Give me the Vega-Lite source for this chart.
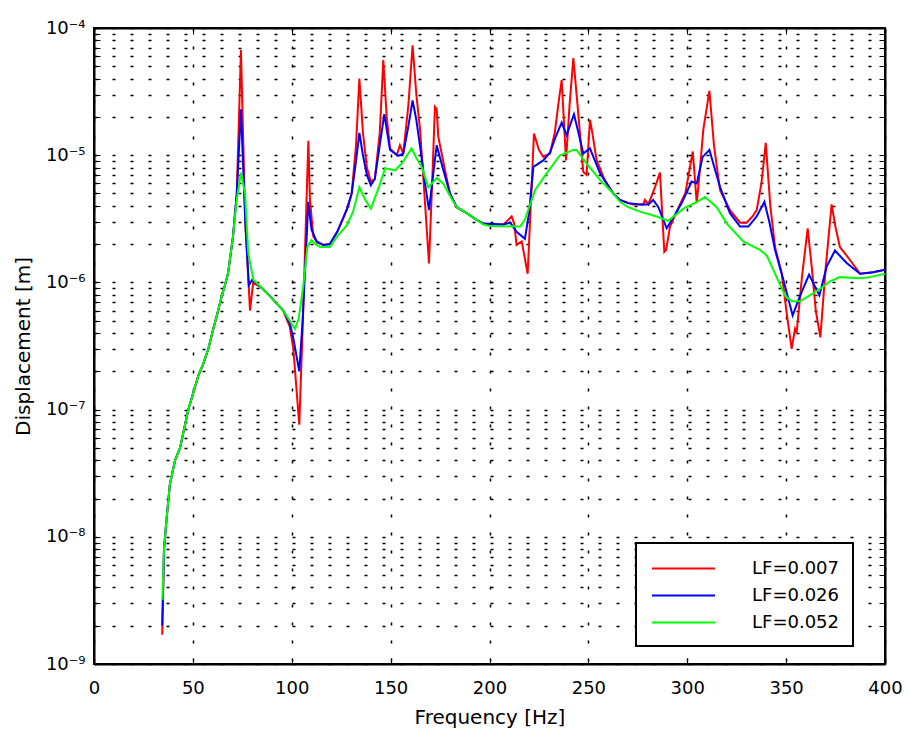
{
  "$schema": "https://vega.github.io/schema/vega-lite/v6.json",
  "width": 791,
  "height": 636,
  "autosize": {"type": "none"},
  "padding": {"left": 94, "top": 28, "right": 24, "bottom": 72},
  "background": "white",
  "config": {
    "view": {"stroke": "black", "strokeWidth": 2},
    "font": "DejaVu Sans",
    "axis": {
      "domainColor": "black",
      "domainWidth": 2,
      "tickColor": "black",
      "tickWidth": 1,
      "tickSize": -6,
      "labelColor": "black",
      "titleColor": "black",
      "labelFont": "DejaVu Sans",
      "titleFont": "DejaVu Sans",
      "titleFontWeight": "normal",
      "labelFlush": false,
      "gridColor": "black",
      "gridDash": [3, 15],
      "gridWidth": 1.5,
      "gridOpacity": 1
    },
    "legend": {
      "orient": "none",
      "legendX": 542,
      "legendY": 515,
      "strokeColor": "black",
      "strokeWidth": 2,
      "fillColor": "white",
      "padding": 14,
      "symbolType": "M-3,0H3",
      "symbolSize": 441,
      "symbolStrokeWidth": 2,
      "symbolOffset": 22,
      "labelFont": "DejaVu Sans",
      "labelFontSize": 18,
      "labelColor": "black",
      "labelOffset": 57,
      "rowPadding": 6
    }
  },
  "data": {
    "values": [
      {"f": 34.5, "d": 1.7e-9, "s": "LF=0.007"},
      {"f": 35.4, "d": 8e-9, "s": "LF=0.007"},
      {"f": 36.8, "d": 1.44e-8, "s": "LF=0.007"},
      {"f": 38.4, "d": 2.6e-8, "s": "LF=0.007"},
      {"f": 41, "d": 4e-8, "s": "LF=0.007"},
      {"f": 43.5, "d": 5e-8, "s": "LF=0.007"},
      {"f": 47.7, "d": 1e-7, "s": "LF=0.007"},
      {"f": 52.8, "d": 1.86e-7, "s": "LF=0.007"},
      {"f": 55.3, "d": 2.3e-7, "s": "LF=0.007"},
      {"f": 57.8, "d": 3e-7, "s": "LF=0.007"},
      {"f": 60.3, "d": 4.3e-7, "s": "LF=0.007"},
      {"f": 62, "d": 5.4e-7, "s": "LF=0.007"},
      {"f": 64.6, "d": 7.8e-7, "s": "LF=0.007"},
      {"f": 66.2, "d": 9.5e-7, "s": "LF=0.007"},
      {"f": 67.8, "d": 1.18e-6, "s": "LF=0.007"},
      {"f": 70.3, "d": 2.3e-6, "s": "LF=0.007"},
      {"f": 72.2, "d": 5e-6, "s": "LF=0.007"},
      {"f": 74.3, "d": 6.7e-5, "s": "LF=0.007"},
      {"f": 76.5, "d": 3e-6, "s": "LF=0.007"},
      {"f": 78.9, "d": 6e-7, "s": "LF=0.007"},
      {"f": 80.5, "d": 1e-6, "s": "LF=0.007"},
      {"f": 85, "d": 9e-7, "s": "LF=0.007"},
      {"f": 89, "d": 7.8e-7, "s": "LF=0.007"},
      {"f": 95.7, "d": 6e-7, "s": "LF=0.007"},
      {"f": 99, "d": 4.5e-7, "s": "LF=0.007"},
      {"f": 100.8, "d": 3e-7, "s": "LF=0.007"},
      {"f": 103.8, "d": 7.6e-8, "s": "LF=0.007"},
      {"f": 105.5, "d": 4.3e-7, "s": "LF=0.007"},
      {"f": 108.4, "d": 1.3e-5, "s": "LF=0.007"},
      {"f": 109.2, "d": 4.5e-6, "s": "LF=0.007"},
      {"f": 110.9, "d": 2.3e-6, "s": "LF=0.007"},
      {"f": 113, "d": 2.05e-6, "s": "LF=0.007"},
      {"f": 116, "d": 1.97e-6, "s": "LF=0.007"},
      {"f": 119.3, "d": 2e-6, "s": "LF=0.007"},
      {"f": 123, "d": 2.5e-6, "s": "LF=0.007"},
      {"f": 126, "d": 3.2e-6, "s": "LF=0.007"},
      {"f": 128, "d": 3.8e-6, "s": "LF=0.007"},
      {"f": 130.3, "d": 5e-6, "s": "LF=0.007"},
      {"f": 132.5, "d": 1.2e-5, "s": "LF=0.007"},
      {"f": 134.2, "d": 4e-5, "s": "LF=0.007"},
      {"f": 136, "d": 1.5e-5, "s": "LF=0.007"},
      {"f": 138, "d": 8e-6, "s": "LF=0.007"},
      {"f": 140, "d": 6.2e-6, "s": "LF=0.007"},
      {"f": 142, "d": 6.5e-6, "s": "LF=0.007"},
      {"f": 144.5, "d": 1.5e-5, "s": "LF=0.007"},
      {"f": 146.3, "d": 5.6e-5, "s": "LF=0.007"},
      {"f": 148, "d": 2e-5, "s": "LF=0.007"},
      {"f": 149.7, "d": 1.13e-5, "s": "LF=0.007"},
      {"f": 153.1, "d": 1e-5, "s": "LF=0.007"},
      {"f": 154.7, "d": 1.2e-5, "s": "LF=0.007"},
      {"f": 156.4, "d": 1.03e-5, "s": "LF=0.007"},
      {"f": 159, "d": 2.5e-5, "s": "LF=0.007"},
      {"f": 161.1, "d": 7.3e-5, "s": "LF=0.007"},
      {"f": 163, "d": 3e-5, "s": "LF=0.007"},
      {"f": 164.9, "d": 1.58e-5, "s": "LF=0.007"},
      {"f": 167.4, "d": 4.2e-6, "s": "LF=0.007"},
      {"f": 169.4, "d": 1.41e-6, "s": "LF=0.007"},
      {"f": 171, "d": 6e-6, "s": "LF=0.007"},
      {"f": 172.4, "d": 2.4e-5, "s": "LF=0.007"},
      {"f": 173.3, "d": 2.3e-5, "s": "LF=0.007"},
      {"f": 174.1, "d": 1.4e-5, "s": "LF=0.007"},
      {"f": 175.8, "d": 1.03e-5, "s": "LF=0.007"},
      {"f": 178, "d": 7e-6, "s": "LF=0.007"},
      {"f": 180, "d": 5e-6, "s": "LF=0.007"},
      {"f": 183.4, "d": 3.9e-6, "s": "LF=0.007"},
      {"f": 188.5, "d": 3.5e-6, "s": "LF=0.007"},
      {"f": 193.5, "d": 3.1e-6, "s": "LF=0.007"},
      {"f": 196.9, "d": 2.9e-6, "s": "LF=0.007"},
      {"f": 200, "d": 2.85e-6, "s": "LF=0.007"},
      {"f": 207, "d": 2.85e-6, "s": "LF=0.007"},
      {"f": 209.5, "d": 3.1e-6, "s": "LF=0.007"},
      {"f": 211.2, "d": 3.3e-6, "s": "LF=0.007"},
      {"f": 212.5, "d": 2.9e-6, "s": "LF=0.007"},
      {"f": 213.7, "d": 1.97e-6, "s": "LF=0.007"},
      {"f": 216.3, "d": 2.1e-6, "s": "LF=0.007"},
      {"f": 219.3, "d": 1.17e-6, "s": "LF=0.007"},
      {"f": 222.5, "d": 1.48e-5, "s": "LF=0.007"},
      {"f": 225, "d": 1.1e-5, "s": "LF=0.007"},
      {"f": 227.2, "d": 9.7e-6, "s": "LF=0.007"},
      {"f": 230.6, "d": 1.03e-5, "s": "LF=0.007"},
      {"f": 233, "d": 1.5e-5, "s": "LF=0.007"},
      {"f": 235.2, "d": 2.8e-5, "s": "LF=0.007"},
      {"f": 236.5, "d": 3.9e-5, "s": "LF=0.007"},
      {"f": 238.7, "d": 9.1e-6, "s": "LF=0.007"},
      {"f": 240.5, "d": 2.5e-5, "s": "LF=0.007"},
      {"f": 242.4, "d": 5.8e-5, "s": "LF=0.007"},
      {"f": 244.5, "d": 2.5e-5, "s": "LF=0.007"},
      {"f": 247.4, "d": 7.4e-6, "s": "LF=0.007"},
      {"f": 249.1, "d": 7e-6, "s": "LF=0.007"},
      {"f": 250.8, "d": 1.9e-5, "s": "LF=0.007"},
      {"f": 252, "d": 1.5e-5, "s": "LF=0.007"},
      {"f": 254.2, "d": 9.1e-6, "s": "LF=0.007"},
      {"f": 258, "d": 6.5e-6, "s": "LF=0.007"},
      {"f": 262.6, "d": 5e-6, "s": "LF=0.007"},
      {"f": 266, "d": 4.45e-6, "s": "LF=0.007"},
      {"f": 270.2, "d": 4.2e-6, "s": "LF=0.007"},
      {"f": 272.7, "d": 4.1e-6, "s": "LF=0.007"},
      {"f": 277.8, "d": 4.1e-6, "s": "LF=0.007"},
      {"f": 278.6, "d": 4.45e-6, "s": "LF=0.007"},
      {"f": 280.3, "d": 4.1e-6, "s": "LF=0.007"},
      {"f": 283.5, "d": 5.5e-6, "s": "LF=0.007"},
      {"f": 286.2, "d": 7.3e-6, "s": "LF=0.007"},
      {"f": 288.4, "d": 1.74e-6, "s": "LF=0.007"},
      {"f": 289.3, "d": 1.8e-6, "s": "LF=0.007"},
      {"f": 291.3, "d": 2.75e-6, "s": "LF=0.007"},
      {"f": 296.3, "d": 4.1e-6, "s": "LF=0.007"},
      {"f": 299, "d": 5e-6, "s": "LF=0.007"},
      {"f": 302.8, "d": 1.07e-5, "s": "LF=0.007"},
      {"f": 304.8, "d": 4.2e-6, "s": "LF=0.007"},
      {"f": 306.5, "d": 8e-6, "s": "LF=0.007"},
      {"f": 308.1, "d": 1.58e-5, "s": "LF=0.007"},
      {"f": 311.2, "d": 3.2e-5, "s": "LF=0.007"},
      {"f": 313.5, "d": 1.2e-5, "s": "LF=0.007"},
      {"f": 316.6, "d": 5.3e-6, "s": "LF=0.007"},
      {"f": 321.6, "d": 3.7e-6, "s": "LF=0.007"},
      {"f": 326.7, "d": 2.95e-6, "s": "LF=0.007"},
      {"f": 330, "d": 2.95e-6, "s": "LF=0.007"},
      {"f": 333, "d": 3.3e-6, "s": "LF=0.007"},
      {"f": 335.1, "d": 3.7e-6, "s": "LF=0.007"},
      {"f": 337.5, "d": 6e-6, "s": "LF=0.007"},
      {"f": 339.7, "d": 1.25e-5, "s": "LF=0.007"},
      {"f": 342, "d": 4e-6, "s": "LF=0.007"},
      {"f": 344.4, "d": 1.9e-6, "s": "LF=0.007"},
      {"f": 347.8, "d": 1.17e-6, "s": "LF=0.007"},
      {"f": 350.3, "d": 5.7e-7, "s": "LF=0.007"},
      {"f": 352.8, "d": 3e-7, "s": "LF=0.007"},
      {"f": 354.5, "d": 4.3e-7, "s": "LF=0.007"},
      {"f": 355.3, "d": 4e-7, "s": "LF=0.007"},
      {"f": 358, "d": 1.1e-6, "s": "LF=0.007"},
      {"f": 360.9, "d": 2.66e-6, "s": "LF=0.007"},
      {"f": 363, "d": 1.3e-6, "s": "LF=0.007"},
      {"f": 365, "d": 6e-7, "s": "LF=0.007"},
      {"f": 367.3, "d": 3.7e-7, "s": "LF=0.007"},
      {"f": 370, "d": 1.3e-6, "s": "LF=0.007"},
      {"f": 373, "d": 4.1e-6, "s": "LF=0.007"},
      {"f": 375, "d": 2.7e-6, "s": "LF=0.007"},
      {"f": 377.2, "d": 1.9e-6, "s": "LF=0.007"},
      {"f": 382.3, "d": 1.5e-6, "s": "LF=0.007"},
      {"f": 387.4, "d": 1.17e-6, "s": "LF=0.007"},
      {"f": 394.1, "d": 1.2e-6, "s": "LF=0.007"},
      {"f": 400, "d": 1.26e-6, "s": "LF=0.007"},

      {"f": 34.5, "d": 2e-9, "s": "LF=0.026"},
      {"f": 35.4, "d": 8e-9, "s": "LF=0.026"},
      {"f": 36.8, "d": 1.44e-8, "s": "LF=0.026"},
      {"f": 38.4, "d": 2.6e-8, "s": "LF=0.026"},
      {"f": 41, "d": 4e-8, "s": "LF=0.026"},
      {"f": 43.5, "d": 5e-8, "s": "LF=0.026"},
      {"f": 47.7, "d": 1e-7, "s": "LF=0.026"},
      {"f": 52.8, "d": 1.86e-7, "s": "LF=0.026"},
      {"f": 55.3, "d": 2.3e-7, "s": "LF=0.026"},
      {"f": 57.8, "d": 3e-7, "s": "LF=0.026"},
      {"f": 60.3, "d": 4.3e-7, "s": "LF=0.026"},
      {"f": 62, "d": 5.4e-7, "s": "LF=0.026"},
      {"f": 64.6, "d": 7.8e-7, "s": "LF=0.026"},
      {"f": 66.2, "d": 9.5e-7, "s": "LF=0.026"},
      {"f": 67.8, "d": 1.18e-6, "s": "LF=0.026"},
      {"f": 70.3, "d": 2.3e-6, "s": "LF=0.026"},
      {"f": 72.2, "d": 5e-6, "s": "LF=0.026"},
      {"f": 74.3, "d": 2.3e-5, "s": "LF=0.026"},
      {"f": 76.5, "d": 3e-6, "s": "LF=0.026"},
      {"f": 78.3, "d": 9.5e-7, "s": "LF=0.026"},
      {"f": 80, "d": 1.05e-6, "s": "LF=0.026"},
      {"f": 85, "d": 9e-7, "s": "LF=0.026"},
      {"f": 89, "d": 7.8e-7, "s": "LF=0.026"},
      {"f": 95.7, "d": 6e-7, "s": "LF=0.026"},
      {"f": 99, "d": 4.8e-7, "s": "LF=0.026"},
      {"f": 101, "d": 3.5e-7, "s": "LF=0.026"},
      {"f": 103.8, "d": 2e-7, "s": "LF=0.026"},
      {"f": 105.5, "d": 5e-7, "s": "LF=0.026"},
      {"f": 108.4, "d": 4.3e-6, "s": "LF=0.026"},
      {"f": 110, "d": 2.6e-6, "s": "LF=0.026"},
      {"f": 112.6, "d": 2.1e-6, "s": "LF=0.026"},
      {"f": 116, "d": 1.97e-6, "s": "LF=0.026"},
      {"f": 119.3, "d": 2e-6, "s": "LF=0.026"},
      {"f": 123, "d": 2.5e-6, "s": "LF=0.026"},
      {"f": 126, "d": 3.2e-6, "s": "LF=0.026"},
      {"f": 128, "d": 3.8e-6, "s": "LF=0.026"},
      {"f": 130.3, "d": 5e-6, "s": "LF=0.026"},
      {"f": 132.5, "d": 9e-6, "s": "LF=0.026"},
      {"f": 134.2, "d": 1.5e-5, "s": "LF=0.026"},
      {"f": 136, "d": 1e-5, "s": "LF=0.026"},
      {"f": 138, "d": 7e-6, "s": "LF=0.026"},
      {"f": 140, "d": 5.8e-6, "s": "LF=0.026"},
      {"f": 142, "d": 6.5e-6, "s": "LF=0.026"},
      {"f": 144.5, "d": 1.2e-5, "s": "LF=0.026"},
      {"f": 146.8, "d": 2.1e-5, "s": "LF=0.026"},
      {"f": 149.7, "d": 1.1e-5, "s": "LF=0.026"},
      {"f": 153.9, "d": 9.9e-6, "s": "LF=0.026"},
      {"f": 156.4, "d": 1.03e-5, "s": "LF=0.026"},
      {"f": 159, "d": 1.7e-5, "s": "LF=0.026"},
      {"f": 161.1, "d": 2.7e-5, "s": "LF=0.026"},
      {"f": 163, "d": 1.9e-5, "s": "LF=0.026"},
      {"f": 164.9, "d": 1.17e-5, "s": "LF=0.026"},
      {"f": 167.4, "d": 6e-6, "s": "LF=0.026"},
      {"f": 169.4, "d": 3.7e-6, "s": "LF=0.026"},
      {"f": 171.5, "d": 7e-6, "s": "LF=0.026"},
      {"f": 173.3, "d": 1.2e-5, "s": "LF=0.026"},
      {"f": 175, "d": 9.5e-6, "s": "LF=0.026"},
      {"f": 176.6, "d": 7.7e-6, "s": "LF=0.026"},
      {"f": 180, "d": 5e-6, "s": "LF=0.026"},
      {"f": 183.4, "d": 3.9e-6, "s": "LF=0.026"},
      {"f": 188.5, "d": 3.5e-6, "s": "LF=0.026"},
      {"f": 193.5, "d": 3.1e-6, "s": "LF=0.026"},
      {"f": 196.9, "d": 2.9e-6, "s": "LF=0.026"},
      {"f": 207, "d": 2.85e-6, "s": "LF=0.026"},
      {"f": 210.5, "d": 2.95e-6, "s": "LF=0.026"},
      {"f": 213.7, "d": 2.5e-6, "s": "LF=0.026"},
      {"f": 217.9, "d": 2.2e-6, "s": "LF=0.026"},
      {"f": 220, "d": 3.5e-6, "s": "LF=0.026"},
      {"f": 222.2, "d": 8.1e-6, "s": "LF=0.026"},
      {"f": 227.2, "d": 9.1e-6, "s": "LF=0.026"},
      {"f": 230.6, "d": 1.05e-5, "s": "LF=0.026"},
      {"f": 233.5, "d": 1.4e-5, "s": "LF=0.026"},
      {"f": 236.5, "d": 1.8e-5, "s": "LF=0.026"},
      {"f": 239, "d": 1.44e-5, "s": "LF=0.026"},
      {"f": 242.7, "d": 2.1e-5, "s": "LF=0.026"},
      {"f": 245, "d": 1.5e-5, "s": "LF=0.026"},
      {"f": 247.4, "d": 1.03e-5, "s": "LF=0.026"},
      {"f": 250.8, "d": 1.13e-5, "s": "LF=0.026"},
      {"f": 255.9, "d": 7.2e-6, "s": "LF=0.026"},
      {"f": 262.6, "d": 5e-6, "s": "LF=0.026"},
      {"f": 266, "d": 4.45e-6, "s": "LF=0.026"},
      {"f": 270.2, "d": 4.2e-6, "s": "LF=0.026"},
      {"f": 276.1, "d": 4.1e-6, "s": "LF=0.026"},
      {"f": 280.3, "d": 4.1e-6, "s": "LF=0.026"},
      {"f": 282.8, "d": 4.45e-6, "s": "LF=0.026"},
      {"f": 285.4, "d": 3.9e-6, "s": "LF=0.026"},
      {"f": 289.6, "d": 2.66e-6, "s": "LF=0.026"},
      {"f": 292.2, "d": 3.1e-6, "s": "LF=0.026"},
      {"f": 297.2, "d": 4.2e-6, "s": "LF=0.026"},
      {"f": 302.2, "d": 6.2e-6, "s": "LF=0.026"},
      {"f": 304.8, "d": 6e-6, "s": "LF=0.026"},
      {"f": 307.8, "d": 9.7e-6, "s": "LF=0.026"},
      {"f": 311.2, "d": 1.1e-5, "s": "LF=0.026"},
      {"f": 316.6, "d": 5.6e-6, "s": "LF=0.026"},
      {"f": 321.6, "d": 3.5e-6, "s": "LF=0.026"},
      {"f": 326.7, "d": 2.75e-6, "s": "LF=0.026"},
      {"f": 330.9, "d": 2.75e-6, "s": "LF=0.026"},
      {"f": 335.1, "d": 3.3e-6, "s": "LF=0.026"},
      {"f": 339, "d": 4.3e-6, "s": "LF=0.026"},
      {"f": 341.5, "d": 3e-6, "s": "LF=0.026"},
      {"f": 344.4, "d": 1.8e-6, "s": "LF=0.026"},
      {"f": 348.6, "d": 1.05e-6, "s": "LF=0.026"},
      {"f": 353.3, "d": 5.5e-7, "s": "LF=0.026"},
      {"f": 357, "d": 7.8e-7, "s": "LF=0.026"},
      {"f": 361.6, "d": 1.15e-6, "s": "LF=0.026"},
      {"f": 366.8, "d": 7.9e-7, "s": "LF=0.026"},
      {"f": 370.5, "d": 1.33e-6, "s": "LF=0.026"},
      {"f": 374.7, "d": 1.78e-6, "s": "LF=0.026"},
      {"f": 380.6, "d": 1.42e-6, "s": "LF=0.026"},
      {"f": 387.4, "d": 1.17e-6, "s": "LF=0.026"},
      {"f": 394, "d": 1.2e-6, "s": "LF=0.026"},
      {"f": 400, "d": 1.26e-6, "s": "LF=0.026"},

      {"f": 34.6, "d": 3.2e-9, "s": "LF=0.052"},
      {"f": 35.4, "d": 8e-9, "s": "LF=0.052"},
      {"f": 36.8, "d": 1.44e-8, "s": "LF=0.052"},
      {"f": 38.4, "d": 2.6e-8, "s": "LF=0.052"},
      {"f": 41, "d": 4e-8, "s": "LF=0.052"},
      {"f": 43.5, "d": 5e-8, "s": "LF=0.052"},
      {"f": 47.7, "d": 1e-7, "s": "LF=0.052"},
      {"f": 52.8, "d": 1.86e-7, "s": "LF=0.052"},
      {"f": 55.3, "d": 2.3e-7, "s": "LF=0.052"},
      {"f": 57.8, "d": 3e-7, "s": "LF=0.052"},
      {"f": 60.3, "d": 4.3e-7, "s": "LF=0.052"},
      {"f": 62, "d": 5.4e-7, "s": "LF=0.052"},
      {"f": 64.6, "d": 7.8e-7, "s": "LF=0.052"},
      {"f": 66.2, "d": 9.5e-7, "s": "LF=0.052"},
      {"f": 67.8, "d": 1.18e-6, "s": "LF=0.052"},
      {"f": 70.3, "d": 2.3e-6, "s": "LF=0.052"},
      {"f": 72.2, "d": 4.5e-6, "s": "LF=0.052"},
      {"f": 74.3, "d": 7.3e-6, "s": "LF=0.052"},
      {"f": 76.4, "d": 5e-6, "s": "LF=0.052"},
      {"f": 78, "d": 1.7e-6, "s": "LF=0.052"},
      {"f": 80.6, "d": 1.05e-6, "s": "LF=0.052"},
      {"f": 85, "d": 9e-7, "s": "LF=0.052"},
      {"f": 89, "d": 7.8e-7, "s": "LF=0.052"},
      {"f": 95.7, "d": 6e-7, "s": "LF=0.052"},
      {"f": 99, "d": 5e-7, "s": "LF=0.052"},
      {"f": 101.6, "d": 4.3e-7, "s": "LF=0.052"},
      {"f": 103.5, "d": 5.2e-7, "s": "LF=0.052"},
      {"f": 105.8, "d": 9.3e-7, "s": "LF=0.052"},
      {"f": 107.9, "d": 1.9e-6, "s": "LF=0.052"},
      {"f": 110, "d": 2.15e-6, "s": "LF=0.052"},
      {"f": 112, "d": 2e-6, "s": "LF=0.052"},
      {"f": 114.3, "d": 1.9e-6, "s": "LF=0.052"},
      {"f": 119.3, "d": 1.9e-6, "s": "LF=0.052"},
      {"f": 123, "d": 2.3e-6, "s": "LF=0.052"},
      {"f": 127.8, "d": 2.8e-6, "s": "LF=0.052"},
      {"f": 131, "d": 3.6e-6, "s": "LF=0.052"},
      {"f": 134.2, "d": 5.6e-6, "s": "LF=0.052"},
      {"f": 137, "d": 4.5e-6, "s": "LF=0.052"},
      {"f": 140, "d": 3.8e-6, "s": "LF=0.052"},
      {"f": 144.6, "d": 5.9e-6, "s": "LF=0.052"},
      {"f": 147.2, "d": 7.9e-6, "s": "LF=0.052"},
      {"f": 152.2, "d": 7.6e-6, "s": "LF=0.052"},
      {"f": 155.6, "d": 8.6e-6, "s": "LF=0.052"},
      {"f": 160.6, "d": 1.13e-5, "s": "LF=0.052"},
      {"f": 163, "d": 9.5e-6, "s": "LF=0.052"},
      {"f": 165.7, "d": 8.1e-6, "s": "LF=0.052"},
      {"f": 169.1, "d": 5.6e-6, "s": "LF=0.052"},
      {"f": 173.3, "d": 6.6e-6, "s": "LF=0.052"},
      {"f": 176.6, "d": 6e-6, "s": "LF=0.052"},
      {"f": 180, "d": 4.8e-6, "s": "LF=0.052"},
      {"f": 183.4, "d": 3.9e-6, "s": "LF=0.052"},
      {"f": 188.5, "d": 3.5e-6, "s": "LF=0.052"},
      {"f": 193.5, "d": 3.1e-6, "s": "LF=0.052"},
      {"f": 196.9, "d": 2.85e-6, "s": "LF=0.052"},
      {"f": 200.3, "d": 2.77e-6, "s": "LF=0.052"},
      {"f": 215.4, "d": 2.75e-6, "s": "LF=0.052"},
      {"f": 217.9, "d": 3.1e-6, "s": "LF=0.052"},
      {"f": 223, "d": 5.3e-6, "s": "LF=0.052"},
      {"f": 228.9, "d": 7.2e-6, "s": "LF=0.052"},
      {"f": 235.6, "d": 1e-5, "s": "LF=0.052"},
      {"f": 242.4, "d": 1.1e-5, "s": "LF=0.052"},
      {"f": 244, "d": 1.1e-5, "s": "LF=0.052"},
      {"f": 249.1, "d": 8.6e-6, "s": "LF=0.052"},
      {"f": 255.9, "d": 6.4e-6, "s": "LF=0.052"},
      {"f": 262.6, "d": 5e-6, "s": "LF=0.052"},
      {"f": 266, "d": 4.3e-6, "s": "LF=0.052"},
      {"f": 270.2, "d": 3.9e-6, "s": "LF=0.052"},
      {"f": 276.1, "d": 3.6e-6, "s": "LF=0.052"},
      {"f": 284.6, "d": 3.3e-6, "s": "LF=0.052"},
      {"f": 290.4, "d": 3.05e-6, "s": "LF=0.052"},
      {"f": 298, "d": 3.8e-6, "s": "LF=0.052"},
      {"f": 305, "d": 4.3e-6, "s": "LF=0.052"},
      {"f": 309, "d": 4.7e-6, "s": "LF=0.052"},
      {"f": 314.9, "d": 3.9e-6, "s": "LF=0.052"},
      {"f": 320, "d": 2.9e-6, "s": "LF=0.052"},
      {"f": 328.3, "d": 2.1e-6, "s": "LF=0.052"},
      {"f": 336.8, "d": 1.8e-6, "s": "LF=0.052"},
      {"f": 340.2, "d": 1.63e-6, "s": "LF=0.052"},
      {"f": 345.2, "d": 1.1e-6, "s": "LF=0.052"},
      {"f": 349.4, "d": 7.9e-7, "s": "LF=0.052"},
      {"f": 352.8, "d": 7.1e-7, "s": "LF=0.052"},
      {"f": 357, "d": 7.1e-7, "s": "LF=0.052"},
      {"f": 362, "d": 7.9e-7, "s": "LF=0.052"},
      {"f": 367.1, "d": 8.9e-7, "s": "LF=0.052"},
      {"f": 372.2, "d": 1.02e-6, "s": "LF=0.052"},
      {"f": 377.2, "d": 1.1e-6, "s": "LF=0.052"},
      {"f": 387.4, "d": 1.08e-6, "s": "LF=0.052"},
      {"f": 392.4, "d": 1.1e-6, "s": "LF=0.052"},
      {"f": 400, "d": 1.17e-6, "s": "LF=0.052"}
    ]
  },
  "resolve": {"axis": {"x": "independent", "y": "independent"}},
  "layer": [
    {
      "mark": {"type": "line", "strokeWidth": 2, "clip": true},
      "encoding": {
        "x": {
          "field": "f",
          "type": "quantitative",
          "scale": {"domain": [0, 400], "nice": false, "zero": false},
          "axis": {
            "orient": "bottom",
            "values": [0, 50, 100, 150, 200, 250, 300, 350, 400],
            "grid": true,
            "labelFontSize": 18,
            "labelPadding": 21,
            "labelFlush": false,
            "title": "Frequency [Hz]",
            "titleFontSize": 20,
            "titlePadding": 10
          }
        },
        "y": {
          "field": "d",
          "type": "quantitative",
          "scale": {"type": "log", "domain": [1e-9, 0.0001], "nice": false},
          "axis": {
            "orient": "left",
            "values": [1e-9, 2e-9, 3e-9, 4e-9, 5e-9, 6e-9, 7e-9, 8e-9, 9e-9, 1e-8, 2e-8, 3e-8, 4e-8, 5e-8, 6e-8, 7e-8, 8e-8, 9e-8, 1e-7, 2e-7, 3e-7, 4e-7, 5e-7, 6e-7, 7e-7, 8e-7, 9e-7, 1e-6, 2e-6, 3e-6, 4e-6, 5e-6, 6e-6, 7e-6, 8e-6, 9e-6, 1e-5, 2e-5, 3e-5, 4e-5, 5e-5, 6e-5, 7e-5, 8e-5, 9e-5, 0.0001],
            "grid": true,
            "labelFontSize": 18,
            "labelPadding": 15,
            "labelOverlap": false,
            "labelFlush": false,
            "labelExpr": "abs(log(datum.value)/LN10 - round(log(datum.value)/LN10)) < 0.01 ? '10⁻' + ['⁰','¹','²','³','⁴','⁵','⁶','⁷','⁸','⁹'][-round(log(datum.value)/LN10)] : ''",
            "title": "Displacement [m]",
            "titleFontSize": 20,
            "titlePadding": 12
          }
        },
        "color": {
          "field": "s",
          "type": "nominal",
          "scale": {"domain": ["LF=0.007", "LF=0.026", "LF=0.052"], "range": ["#ff0000", "#0000ff", "#00ff00"]},
          "legend": {"title": null}
        }
      }
    },
    {
      "mark": {"type": "line", "opacity": 0},
      "encoding": {
        "x": {
          "field": "f",
          "type": "quantitative",
          "scale": {"domain": [0, 400], "nice": false, "zero": false},
          "axis": {"orient": "top", "values": [0, 50, 100, 150, 200, 250, 300, 350, 400], "labels": false, "grid": false, "title": null}
        },
        "y": {
          "field": "d",
          "type": "quantitative",
          "scale": {"type": "log", "domain": [1e-9, 0.0001], "nice": false},
          "axis": {
            "orient": "right",
            "values": [1e-9, 2e-9, 3e-9, 4e-9, 5e-9, 6e-9, 7e-9, 8e-9, 9e-9, 1e-8, 2e-8, 3e-8, 4e-8, 5e-8, 6e-8, 7e-8, 8e-8, 9e-8, 1e-7, 2e-7, 3e-7, 4e-7, 5e-7, 6e-7, 7e-7, 8e-7, 9e-7, 1e-6, 2e-6, 3e-6, 4e-6, 5e-6, 6e-6, 7e-6, 8e-6, 9e-6, 1e-5, 2e-5, 3e-5, 4e-5, 5e-5, 6e-5, 7e-5, 8e-5, 9e-5, 0.0001],
            "labels": false,
            "grid": false,
            "title": null
          }
        },
        "detail": {"field": "s", "type": "nominal"}
      }
    }
  ]
}
